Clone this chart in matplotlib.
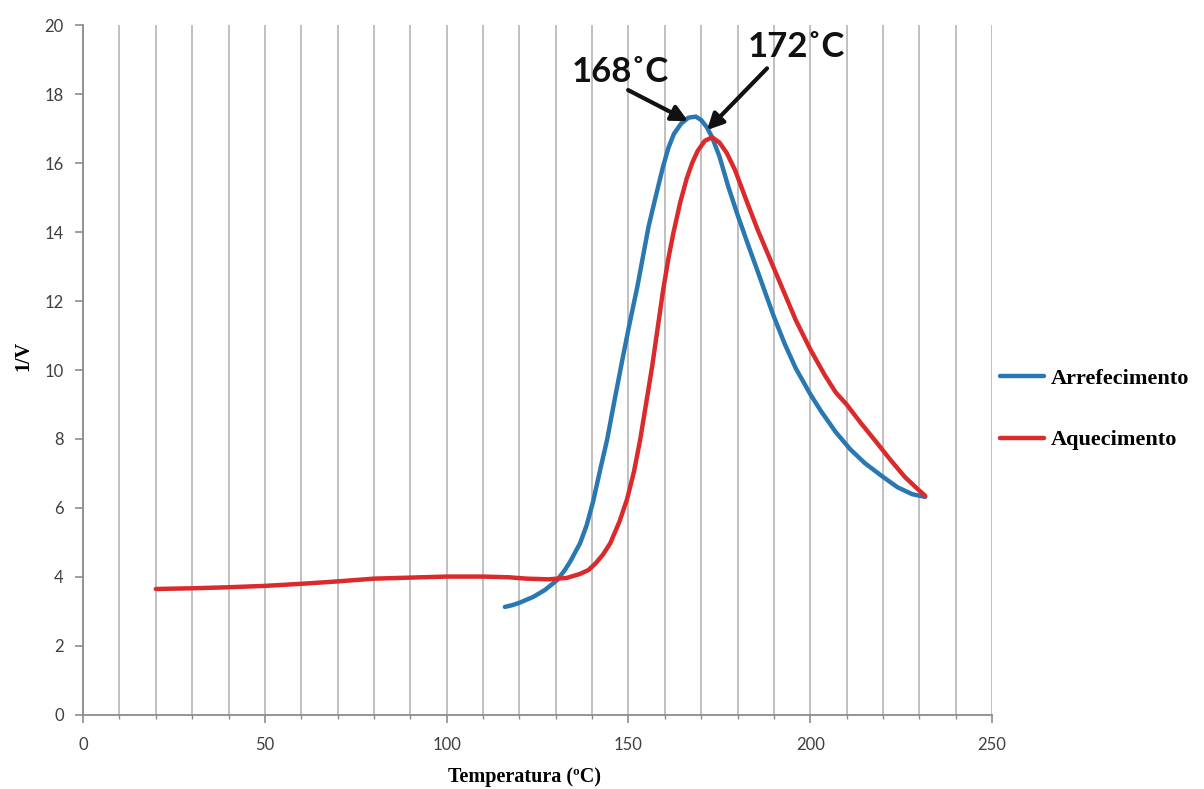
import matplotlib.pyplot as plt
from matplotlib.ticker import MultipleLocator

# Aquecimento (heating run)
temp_aquec = [20, 30, 40, 50, 60, 70, 80, 90, 100, 110, 117, 122, 128, 133, 136.5,
              139, 141, 143, 145, 147.5, 149.6, 151.5, 153.2, 154.8, 156.5, 158, 159.5,
              161, 162.3, 164.2, 166, 167.5, 169, 171, 173, 175, 177, 179.3, 182.5,
              185.6, 189.8, 193, 196, 200, 204, 207, 210, 214, 218.4, 222, 226, 229,
              231.6]
inv_v_aquec = [3.65, 3.67, 3.70, 3.74, 3.80, 3.87, 3.95, 3.98, 4.01, 4.01, 3.99, 3.95,
               3.93, 3.97, 4.08, 4.2, 4.4, 4.65, 4.98, 5.6, 6.25, 7.05, 7.97, 9.0, 10.1,
               11.2, 12.3, 13.25, 13.95, 14.85, 15.55, 16.0, 16.35, 16.65, 16.75, 16.6,
               16.3, 15.8, 14.9, 14.05, 13.0, 12.2, 11.45, 10.6, 9.85, 9.35, 9.0, 8.45,
               7.88, 7.4, 6.9, 6.6, 6.35]

# Arrefecimento (cooling run)
temp_arref = [116, 118, 120, 123.8, 127, 130.4, 132.5, 134, 136.7, 138.5, 140.3, 142.2,
              144.1, 146.3, 148.5, 150.5, 152.5, 154, 155.5, 157.3, 159.5, 161, 162.5,
              164.5, 166.5, 168.5, 170, 171.5, 173, 175, 177.5, 180, 182.5, 185.4, 189.8,
              193, 196, 200, 203, 207, 211, 215, 220, 224, 228, 231.6]
inv_v_arref = [3.13, 3.18, 3.25, 3.42, 3.62, 3.91, 4.2, 4.45, 4.98, 5.5, 6.2, 7.1, 7.97,
               9.2, 10.4, 11.45, 12.45, 13.3, 14.15, 14.95, 15.9, 16.45, 16.85, 17.15,
               17.32, 17.35, 17.25, 17.05, 16.75, 16.2, 15.3, 14.5, 13.75, 12.9, 11.6,
               10.75, 10.05, 9.3, 8.8, 8.2, 7.7, 7.3, 6.9, 6.6, 6.4, 6.32]

picos = ["168˚C", "172˚C"]

azul = "#2a78b2"
vermelho = "#db2a2c"
cinza = "#8c8c8c"
fonte_num = ["Lato", "DejaVu Sans"]

fig = plt.figure(figsize=(12.04, 7.89), dpi=100)
ax = fig.add_axes([0.069, 0.094, 0.755, 0.874])

ax.plot(temp_arref, inv_v_arref, color=azul, lw=3.2, label="Arrefecimento",
        solid_capstyle="round", zorder=3)
ax.plot(temp_aquec, inv_v_aquec, color=vermelho, lw=3.2, label="Aquecimento",
        solid_capstyle="round", zorder=3)

ax.set_xlim(0, 250)
ax.set_ylim(0, 20)
ax.xaxis.set_major_locator(MultipleLocator(50))
ax.xaxis.set_minor_locator(MultipleLocator(10))
ax.yaxis.set_major_locator(MultipleLocator(2))

ax.grid(True, axis="x", which="both", color="#b5b5b5", lw=1.2, zorder=0)
for lado in ["top", "right"]:
    ax.spines[lado].set_visible(False)
for lado in ["left", "bottom"]:
    ax.spines[lado].set_color(cinza)
    ax.spines[lado].set_linewidth(1.3)

ax.tick_params(axis="both", which="major", colors=cinza, labelcolor="#404040",
               length=6, width=1.2, labelsize=12)
ax.tick_params(axis="x", which="minor", colors=cinza, length=3, width=1)
ax.tick_params(axis="x", which="major", pad=10)
ax.tick_params(axis="y", which="major", pad=8)
for lab in ax.get_xticklabels() + ax.get_yticklabels():
    lab.set_family(fonte_num)

ax.set_xlabel("Temperatura (ºC)", family="Liberation Serif", fontweight="bold",
              fontsize=14.5)
ax.set_ylabel("1/V", family="Liberation Serif", fontweight="bold", fontsize=14.5)
ax.xaxis.set_label_coords(0.486, -0.075)
ax.yaxis.set_label_coords(-0.055, 0.52)

# Peak labels and arrows
ax.text(147.7, 18.64, picos[0], ha="center", va="center", fontsize=25,
        fontweight="bold", family=fonte_num, color="#111111")
ax.text(196.2, 19.36, picos[1], ha="center", va="center", fontsize=25,
        fontweight="bold", family=fonte_num, color="#111111")
seta = dict(arrowstyle="-|>", color="#111111", lw=3, mutation_scale=24,
            shrinkA=0, shrinkB=0)
ax.annotate("", xy=(166.4, 17.22), xytext=(149.9, 18.12), arrowprops=seta)
ax.annotate("", xy=(171.6, 16.96), xytext=(188.1, 18.75), arrowprops=seta)

ax.legend(loc="center left", bbox_to_anchor=(1.0, 0.443), frameon=False,
          borderaxespad=0.35, borderpad=0, handlelength=2.0, handletextpad=0.3,
          labelspacing=1.85, prop={"family": "Liberation Serif",
                                   "weight": "bold", "size": 16})

fig.savefig("out.png", dpi=100, facecolor="white")
